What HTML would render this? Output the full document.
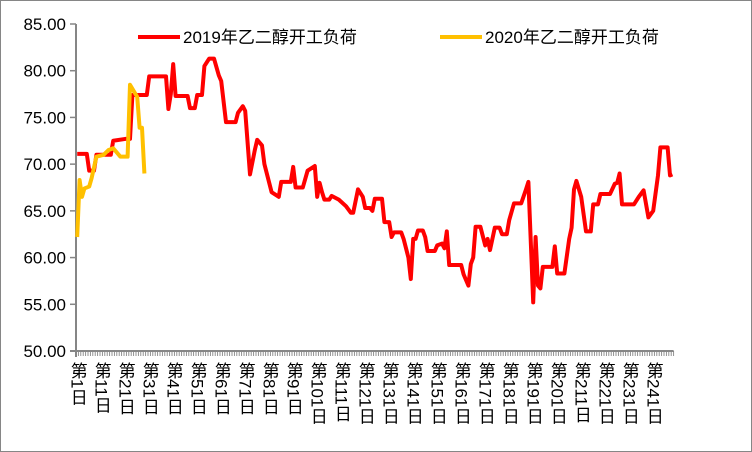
<!DOCTYPE html>
<html><head><meta charset="utf-8"><style>
body{margin:0;background:#fff}
#c{position:relative;width:752px;height:452px;overflow:hidden;font-family:"Liberation Sans","Noto Sans CJK SC",sans-serif}
.xl{position:absolute;top:362px;writing-mode:vertical-rl;text-orientation:mixed;font-size:17px;line-height:17px;color:#000;transform:translateX(-50%)}
</style></head><body>
<div id="c">
<svg id="s" width="752" height="452" style="position:absolute;left:0;top:0">
<rect x="0.5" y="0.5" width="751" height="451" fill="none" stroke="#868686"/>
</svg>
</div>
<script>
const yTicks=[50,55,60,65,70,75,80,85];
const nCats=249;
const days2019=[1,5,6,8,9,15,16,21,23,24,30,31,38,39,40,41,42,47,48,50,51,53,54,56,58,60,61,63,67,68,70,71,73,75,76,78,79,82,85,86,90,91,92,95,97,100,101,102,103,104,106,107,110,113,115,116,118,120,121,123,124,125,128,129,131,132,133,136,137,139,140,141,142,143,145,146,147,150,151,153,154,155,156,161,162,163,164,165,166,167,169,171,172,173,175,177,178,180,181,183,186,188,189,191,192,193,194,195,199,200,201,204,206,207,208,209,211,213,215,216,218,219,223,225,226,227,228,233,235,237,239,241,243,244,247,248,249];
const vals2019=[71.1,71.1,69.3,69.3,71.0,71.0,72.5,72.7,72.7,77.4,77.4,79.4,79.4,75.9,77.5,80.7,77.3,77.3,76,76,77.4,77.4,80.5,81.3,81.3,79.5,78.9,74.5,74.5,75.5,76.2,75.7,68.9,71.5,72.6,72,70,67,66.5,68.1,68.1,69.7,67.5,67.5,69.3,69.8,66.5,68,67,66.2,66.2,66.6,66.2,65.5,64.8,64.8,67.3,66.5,65.3,65.3,65,66.3,66.3,63.8,63.8,62.2,62.7,62.7,62,60,57.7,62,62,62.9,62.9,62.2,60.7,60.7,61.3,61.5,61,62.8,59.2,59.2,58.2,57.6,57,59.3,60,63.3,63.3,61.3,62,60.8,63.2,63.2,62.5,62.5,64,65.8,65.8,67.3,68.1,55.2,62.2,57,56.7,59,59,61.2,58.3,58.3,62,63.2,67.3,68.2,66.5,62.8,62.8,65.7,65.7,66.8,66.8,67.9,68,69,65.7,65.7,66.5,67.2,64.3,65,68.8,71.8,71.8,68.8,68.9];
const days2020=[1,2,3,4,6,7,9,12,14,16,19,22,23,26,27,28,29];
const vals2020=[62.2,68.3,66.5,67.4,67.6,68.5,70.8,71,71.5,71.7,70.8,70.8,78.5,77.2,73.9,73.9,69];
const seriesNames=["2019年乙二醇开工负荷","2020年乙二醇开工负荷"];

const NS="http://www.w3.org/2000/svg";
const svg=document.getElementById('s'),box=document.getElementById('c');
const x0=76,cw=2.4,yTop=24,yBot=351,vMin=50,vMax=85;
const X=d=>x0+(d-0.5)*cw;
const Y=v=>yBot-(v-vMin)/(vMax-vMin)*(yBot-yTop);
function mk(t,a){const e=document.createElementNS(NS,t);for(const k in a)e.setAttribute(k,a[k]);svg.appendChild(e);return e;}
// y axis
let ax=mk('line',{x1:x0,y1:yTop,x2:x0,y2:yBot+6,stroke:'#868686','stroke-width':2});


yTicks.forEach(v=>{
 const t=mk('line',{x1:x0-6,y1:Y(v),x2:x0,y2:Y(v),stroke:'#868686','stroke-width':1.5});
 
 
 const l=mk('text',{x:66,y:Y(v)+6,'text-anchor':'end','font-size':17,fill:'#000'});
 l.textContent=v.toFixed(2);
 
 
});
// x axis
let xa=mk('line',{x1:x0-6,y1:yBot,x2:x0+nCats*cw,y2:yBot,stroke:'#868686','stroke-width':2});


for(let i=0;i<=nCats;i++){
 const t=mk('line',{x1:x0+i*cw,y1:yBot,x2:x0+i*cw,y2:yBot+5,stroke:'#868686','stroke-width':0.9});
 
 
}
for(let d=1;d<=nCats;d+=10){
 const l=document.createElement('div');
 l.className='xl';l.style.left=X(d)+'px';
 l.textContent='第'+d+'日';
 
 
 box.appendChild(l);
}
function series(days,vals,color,name){
 const p=mk('polyline',{points:days.map((d,i)=>X(d)+','+Y(vals[i])).join(' '),fill:'none',stroke:color,'stroke-width':4,'stroke-linejoin':'round'});
 
 
}
series(days2019,vals2019,'#ff0000','line-2019');
series(days2020,vals2020,'#ffc000','line-2020');
// legend
[[138,'#ff0000',seriesNames[0],'legend-2019'],[440,'#ffc000',seriesNames[1],'legend-2020']].forEach(([lx,c,n,dn])=>{
 const g=mk('g',{});
 
 
 const ln=document.createElementNS(NS,'line');
 [['x1',lx],['y1',37],['x2',lx+42],['y2',37],['stroke',c],['stroke-width',4]].forEach(([k,v])=>ln.setAttribute(k,v));
 g.appendChild(ln);
 const t=document.createElementNS(NS,'text');
 t.setAttribute('x',lx+45);t.setAttribute('y',43);t.setAttribute('font-size',17);
 t.textContent=n;g.appendChild(t);
});
</script>
</body></html>
